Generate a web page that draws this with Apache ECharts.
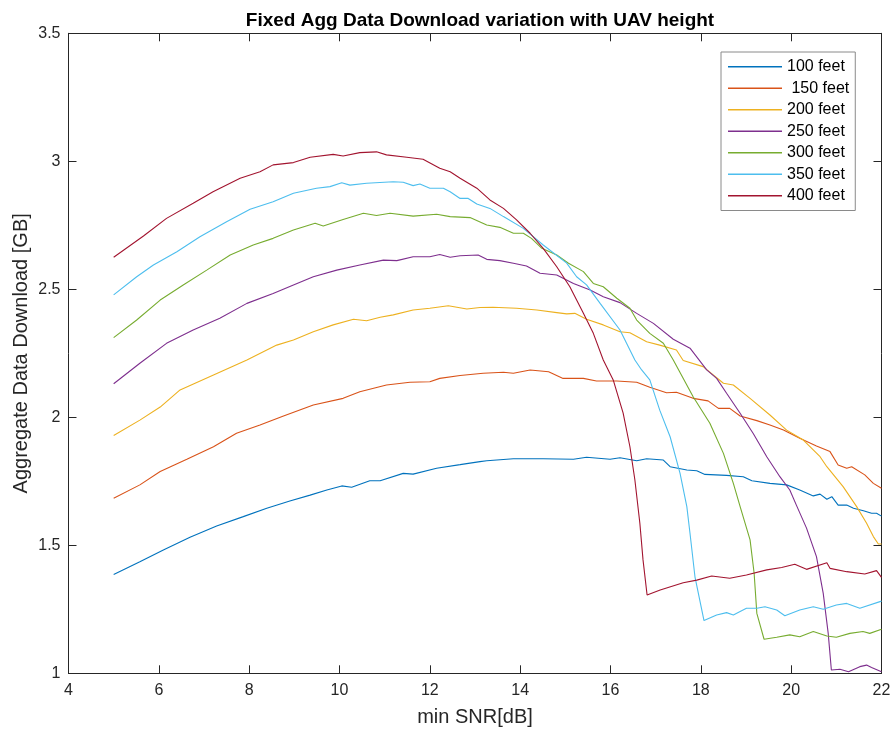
<!DOCTYPE html>
<html>
<head>
<meta charset="utf-8">
<script src="https://cdn.jsdelivr.net/npm/echarts@6/dist/echarts.min.js"></script>
<style>
  html, body { margin: 0; padding: 0; background: #fff; }
  #chart { width: 894px; height: 730px; }
</style>
</head>
<body>
<div id="chart"></div>
<script>
// Aggregate data download (GB) against minimum SNR (dB), one curve per UAV height
const heightNames = ['100 feet', ' 150 feet', '200 feet', '250 feet', '300 feet', '350 feet', '400 feet'];
const lineColors = ['#0072BD', '#D95319', '#EDB120', '#7E2F8E', '#77AC30', '#4DBEEE', '#A2142F'];

const snr100 = [5.0,5.58,6.10,6.69,7.28,7.87,8.39,8.90,9.35,9.72,10.05,10.27,10.67,10.90,11.41,11.63,12.15,12.67,13.11,13.26,13.85,14.51,15.18,15.47,15.99,16.21,16.58,16.80,17.17,17.32,17.69,17.91,18.09,18.57,18.94,19.13,19.53,19.90,20.19,20.49,20.64,20.79,20.90,21.04,21.23,21.38,21.60,21.78,21.89,22.0];
const gb100 = [1.386,1.436,1.482,1.531,1.575,1.612,1.645,1.673,1.696,1.716,1.732,1.727,1.752,1.752,1.781,1.778,1.801,1.815,1.827,1.830,1.838,1.838,1.836,1.844,1.836,1.842,1.830,1.838,1.833,1.807,1.794,1.791,1.777,1.773,1.768,1.752,1.742,1.736,1.716,1.693,1.700,1.680,1.690,1.657,1.657,1.645,1.635,1.625,1.625,1.614];

const snr150 = [5.0,5.58,6.03,6.62,7.21,7.72,8.24,8.76,9.42,10.08,10.45,11.04,11.56,12.0,12.22,12.67,13.18,13.63,13.85,14.22,14.63,14.95,15.40,15.69,16.14,16.58,16.87,17.24,17.46,17.83,18.16,18.39,18.64,18.87,19.24,19.53,19.83,20.19,20.56,20.86,21.04,21.23,21.34,21.63,21.82,22.0];
const gb150 = [1.684,1.736,1.788,1.836,1.885,1.938,1.970,2.005,2.048,2.074,2.100,2.126,2.137,2.139,2.152,2.163,2.172,2.176,2.172,2.185,2.178,2.152,2.152,2.142,2.142,2.137,2.117,2.096,2.098,2.074,2.064,2.035,2.035,2.005,1.987,1.970,1.950,1.918,1.888,1.866,1.814,1.801,1.807,1.775,1.742,1.723];

const snr200 = [5.0,5.58,6.03,6.47,7.21,7.95,8.61,8.98,9.42,9.86,10.31,10.6,10.9,11.19,11.63,12.0,12.41,12.82,13.11,13.40,13.92,14.37,14.81,15.03,15.21,15.47,15.84,16.21,16.43,16.80,17.09,17.46,17.61,18.05,18.50,18.72,19.09,19.53,19.90,20.27,20.64,20.79,21.15,21.45,21.67,21.82,21.93,22.0];
const gb200 = [1.929,1.989,2.040,2.107,2.165,2.224,2.282,2.302,2.334,2.361,2.383,2.377,2.391,2.400,2.419,2.426,2.436,2.423,2.429,2.430,2.426,2.419,2.409,2.404,2.406,2.383,2.361,2.334,2.330,2.295,2.282,2.263,2.222,2.198,2.133,2.126,2.074,2.009,1.950,1.911,1.846,1.807,1.729,1.651,1.586,1.534,1.505,1.505];

const snr250 = [5.0,5.58,6.17,6.76,7.35,7.95,8.53,8.98,9.42,9.94,10.45,10.97,11.27,11.63,12.0,12.22,12.45,12.67,13.07,13.26,13.55,13.85,14.14,14.44,14.81,15.18,15.55,15.84,16.21,16.58,16.95,17.39,17.76,18.13,18.35,18.57,18.87,19.16,19.46,19.75,19.97,20.12,20.34,20.56,20.71,20.82,20.89,21.08,21.27,21.52,21.67,21.78,22.0];
const gb250 = [2.131,2.211,2.289,2.341,2.387,2.445,2.484,2.517,2.549,2.575,2.595,2.614,2.612,2.627,2.627,2.636,2.625,2.631,2.634,2.617,2.612,2.602,2.591,2.563,2.556,2.523,2.497,2.471,2.448,2.406,2.367,2.305,2.270,2.185,2.152,2.094,2.016,1.937,1.846,1.768,1.716,1.655,1.567,1.456,1.312,1.156,1.013,1.016,1.006,1.026,1.032,1.023,1.006];

const snr300 = [5.0,5.51,6.03,6.54,7.06,7.58,8.09,8.53,8.98,9.46,9.64,10.08,10.53,10.82,11.12,11.63,12.15,12.45,12.89,13.26,13.55,13.85,14.07,14.25,14.48,14.81,15.07,15.40,15.62,15.84,16.14,16.43,16.58,16.87,17.17,17.39,17.83,18.20,18.50,18.72,18.88,19.09,19.18,19.24,19.40,19.68,19.97,20.19,20.49,20.79,21.0,21.30,21.59,21.74,22.0];
const gb300 = [2.311,2.380,2.458,2.517,2.575,2.634,2.673,2.699,2.732,2.758,2.747,2.773,2.797,2.788,2.797,2.786,2.793,2.784,2.780,2.751,2.742,2.719,2.719,2.699,2.660,2.634,2.602,2.569,2.523,2.510,2.465,2.426,2.380,2.328,2.289,2.224,2.080,1.977,1.859,1.742,1.645,1.521,1.391,1.234,1.133,1.141,1.150,1.143,1.163,1.146,1.141,1.156,1.163,1.156,1.172];

const snr350 = [5.0,5.51,5.88,6.40,6.91,7.50,8.02,8.53,8.98,9.49,9.79,10.05,10.23,10.6,11.19,11.41,11.63,11.78,12.0,12.3,12.45,12.67,12.85,13.04,13.33,13.63,14.07,14.51,15.03,15.25,15.47,15.77,16.21,16.54,16.69,16.87,17.09,17.32,17.54,17.69,17.76,17.87,18.07,18.35,18.57,18.72,19.01,19.24,19.42,19.68,19.86,20.19,20.49,20.71,21.0,21.23,21.52,22.0];
const gb350 = [2.478,2.549,2.595,2.647,2.705,2.764,2.813,2.842,2.875,2.895,2.901,2.916,2.907,2.914,2.920,2.918,2.905,2.911,2.895,2.895,2.881,2.855,2.855,2.833,2.816,2.784,2.738,2.673,2.602,2.549,2.517,2.445,2.341,2.224,2.185,2.146,2.028,1.924,1.781,1.651,1.547,1.377,1.206,1.228,1.237,1.228,1.254,1.254,1.260,1.247,1.225,1.247,1.260,1.250,1.267,1.273,1.254,1.282];

const snr400 = [5.0,5.66,6.17,6.76,7.2,7.8,8.24,8.53,8.98,9.35,9.86,10.08,10.45,10.82,11.04,11.49,11.85,12.22,12.45,12.67,13.04,13.33,13.63,13.92,14.22,14.51,14.81,15.1,15.4,15.62,15.84,16.06,16.28,16.43,16.54,16.65,16.72,16.81,17.1,17.61,17.91,18.24,18.64,19.01,19.46,19.79,20.08,20.34,20.79,20.86,21.23,21.63,21.89,22.0];
const gb400 = [2.625,2.708,2.777,2.836,2.881,2.934,2.959,2.986,2.995,3.016,3.027,3.021,3.034,3.037,3.025,3.016,3.008,2.973,2.959,2.934,2.895,2.849,2.816,2.771,2.719,2.660,2.588,2.510,2.406,2.328,2.224,2.146,2.016,1.885,1.755,1.586,1.443,1.306,1.325,1.354,1.364,1.380,1.371,1.384,1.404,1.413,1.426,1.406,1.432,1.410,1.397,1.388,1.401,1.375];

const snrSets = [snr100, snr150, snr200, snr250, snr300, snr350, snr400];
const gbSets = [gb100, gb150, gb200, gb250, gb300, gb350, gb400];

const axisColor = '#262626';
const fontFamily = '"Liberation Sans", Arial, Helvetica, sans-serif';

function pair(xs, ys) {
  return xs.map((x, i) => [x, ys[i]]);
}

const series = heightNames.map((name, i) => ({
  name: name,
  type: 'line',
  xAxisIndex: 0,
  yAxisIndex: 0,
  data: pair(snrSets[i], gbSets[i]),
  showSymbol: false,
  symbol: 'none',
  lineStyle: { color: lineColors[i], width: 1.1 },
  itemStyle: { color: lineColors[i] },
  animation: false
}));

const tickStyle = { show: true, inside: true, length: 8, lineStyle: { color: axisColor, width: 1 } };
const lineStyle = { show: true, lineStyle: { color: axisColor, width: 1 } };

const chart = echarts.init(document.getElementById('chart'), null, { renderer: 'canvas' });
chart.setOption({
  backgroundColor: '#ffffff',
  animation: false,
  textStyle: { fontFamily: fontFamily },
  title: {
    text: 'Fixed Agg Data Download variation with UAV height',
    left: 475,
    textAlign: 'center',
    top: 6,
    textStyle: { fontFamily: fontFamily, fontWeight: 'bold', fontSize: 19, color: '#000' }
  },
  grid: {
    left: 68.5, right: 12.5, top: 33.3, bottom: 56.7,
    containLabel: false,
    outerBoundsMode: 'none'
  },
  legend: {
    orient: 'vertical',
    left: 721,
    top: 52,
    padding: [4, 6, 4, 7],
    itemGap: 0,
    itemWidth: 54,
    itemHeight: 1.5,
    icon: 'rect',
    borderColor: '#8a8a8a',
    borderWidth: 1,
    backgroundColor: '#fff',
    data: heightNames,
    textStyle: { fontFamily: fontFamily, fontSize: 16, color: '#000', lineHeight: 21.5 }
  },
  xAxis: [
    {
      type: 'value', min: 4, max: 22, interval: 2, position: 'bottom',
      name: 'min SNR[dB]', nameLocation: 'middle', nameGap: 34,
      nameMoveOverlap: false,
      nameTextStyle: { fontFamily: fontFamily, fontSize: 20, color: axisColor },
      axisLine: lineStyle, axisTick: tickStyle, splitLine: { show: false },
      axisLabel: { fontFamily: fontFamily, fontSize: 16, color: axisColor, margin: 9 }
    },
    {
      type: 'value', min: 4, max: 22, interval: 2, position: 'top',
      axisLine: lineStyle, axisTick: tickStyle, splitLine: { show: false },
      axisLabel: { show: false }
    }
  ],
  yAxis: [
    {
      type: 'value', min: 1, max: 3.5, interval: 0.5, position: 'left',
      name: 'Aggregate Data Download [GB]', nameLocation: 'middle', nameGap: 37,
      nameMoveOverlap: false,
      nameTextStyle: { fontFamily: fontFamily, fontSize: 20, color: axisColor },
      axisLine: lineStyle, axisTick: tickStyle, splitLine: { show: false },
      axisLabel: { fontFamily: fontFamily, fontSize: 16, color: axisColor, margin: 8 }
    },
    {
      type: 'value', min: 1, max: 3.5, interval: 0.5, position: 'right',
      axisLine: lineStyle, axisTick: tickStyle, splitLine: { show: false },
      axisLabel: { show: false }
    }
  ],
  series: series
});
</script>
</body>
</html>
